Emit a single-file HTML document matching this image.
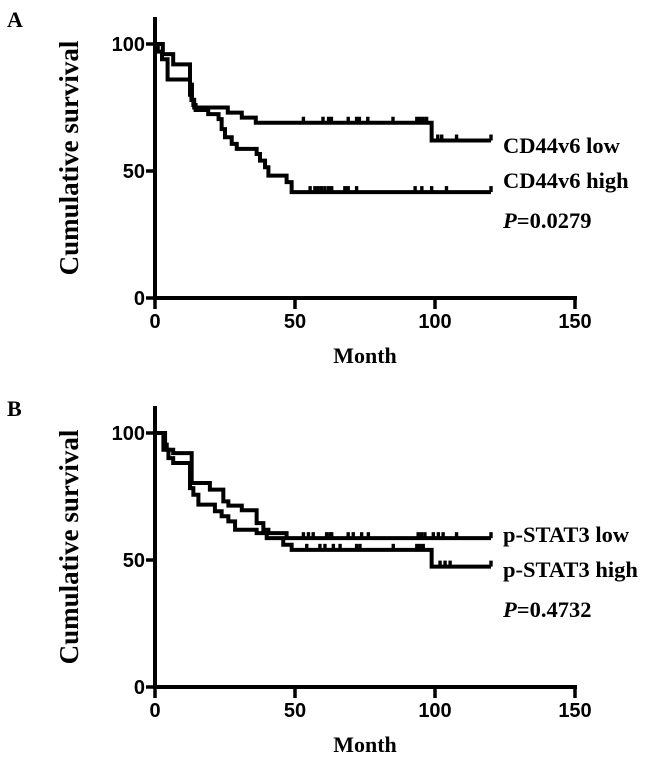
<!DOCTYPE html>
<html><head><meta charset="utf-8"><style>
body{margin:0;background:#fff;}
svg{display:block;}
.tick{font-family:"Liberation Sans",sans-serif;font-weight:bold;font-size:20px;}
.ser{font-family:"Liberation Serif",serif;font-weight:bold;}
</style></head><body>
<svg id="chart" width="648" height="760" viewBox="0 0 648 760">
<text class="ser" x="7" y="27" font-size="22">A</text>
<text class="ser" x="7" y="416" font-size="22">B</text>
</svg>
<script>
// Panel A data
const xTicks=[0,50,100,150];
const yTicks=[0,50,100];
const aLowSteps=[[0,100],[2.8,96],[6.5,92],[12.5,84],[13.2,78],[14,75],[26,73],[31,71],[36,69],[98.8,62]];
const aHighSteps=[[0,100],[1,97],[2.5,94],[4.5,86],[12.5,80],[13,78],[13.7,76],[14.5,74],[19,72.4],[22.7,70.4],[23.8,66.5],[25,63.3],[27.4,60.7],[29.2,58.7],[36.3,56.7],[37.5,54.1],[39.3,51.5],[40.5,48.2],[47,45.6],[48.8,41.7]];
const aLowCensor=[53,60,62,63,69,72,73,76,85,93.5,94.6,95.8,97,101,102.4,107.7,120];
const aHighCensor=[55.4,57.1,58.3,59.5,60.7,62,63.1,67.8,69,72,92.9,95.3,98.8,104.1,120];
// Panel B data
const bLowSteps=[[0,100],[3.6,95.4],[4.2,93.4],[6.5,92.1],[13.1,80.3],[19.6,77.7],[24.4,73.1],[26.2,71.4],[31,69.6],[36.3,64.5],[38.7,61.9],[40.5,60.6],[47,58.6]];
const bHighSteps=[[0,100],[3,93.4],[4.8,90.1],[6.5,88.2],[12.5,78.3],[13.7,75.7],[15.5,71.8],[21.4,69.2],[23.8,67.2],[26.2,65.2],[28.6,61.9],[36.3,60.6],[39.9,58.6],[45.8,56],[48.8,54],[98.8,47.4]];
const bLowCensor=[53,54.8,56.5,61.3,62.5,63.1,69,70.8,73.8,76.2,94,95.2,96.4,99.4,101.2,102.9,107.7,120];
const bHighCensor=[54.2,58.9,60.7,63.7,66.1,72,73.2,85.1,93.5,94.6,95.8,101.8,103.6,105.4,120];
const endTime=120;
const legendA=["CD44v6 low","CD44v6 high","0.0279"];
const legendB=["p-STAT3 low","p-STAT3 high","0.4732"];

const svg=document.getElementById('chart');
const NS='http://www.w3.org/2000/svg';
function mk(tag,attrs,parent){const e=document.createElementNS(NS,tag);for(const k in attrs)e.setAttribute(k,attrs[k]);(parent||svg).appendChild(e);return e;}
function stepVal(steps,t){let v=steps[0][1];for(const s of steps){if(s[0]<=t)v=s[1];}return v;}

function panel(off,id,lowSteps,highSteps,lowC,highC,leg){
  const x=t=>155+t*2.8;
  const y=v=>off+298-v*2.54;
  const g=mk('g',{});
  
  
  const ya=mk('line',{x1:155,y1:off+17,x2:155,y2:y(0)+2,stroke:'#000','stroke-width':4},g);
  
  
  const xa=mk('line',{x1:153,y1:y(0),x2:x(150)+2,y2:y(0),stroke:'#000','stroke-width':4},g);
  
  
  yTicks.forEach(v=>{
    mk('line',{x1:146,y1:y(v),x2:155,y2:y(v),stroke:'#000','stroke-width':3.5},g);
    const t=mk('text',{x:145,y:y(v)+7,'text-anchor':'end',class:'tick'},g);
    t.textContent=v;
    
    
  });
  xTicks.forEach(v=>{
    mk('line',{x1:x(v),y1:y(0),x2:x(v),y2:y(0)+11,stroke:'#000','stroke-width':3.5},g);
    const t=mk('text',{x:x(v),y:off+328,'text-anchor':'middle',class:'tick'},g);
    t.textContent=v;
    
    
  });
  const yt=mk('text',{x:0,y:0,'text-anchor':'middle',class:'ser','font-size':27,transform:`translate(78,${off+158}) rotate(-90)`},g);
  yt.textContent='Cumulative survival';
  
  
  const xt=mk('text',{x:365,y:off+363,'text-anchor':'middle',class:'ser','font-size':22},g);
  xt.textContent='Month';
  
  
  [[lowSteps,lowC,'low'],[highSteps,highC,'high']].forEach(([steps,cens,nm])=>{
    let d=`M${x(0)},${y(steps[0][1])}`;
    for(let i=1;i<steps.length;i++){d+=`H${x(steps[i][0])}V${y(steps[i][1])}`;}
    d+=`H${x(endTime)}`;
    const p=mk('path',{d:d,fill:'none',stroke:'#000','stroke-width':4},g);
    
    
    cens.forEach(t=>{
      const v=stepVal(steps,t);
      const c=mk('line',{x1:x(t),y1:y(v)-6,x2:x(t),y2:y(v),stroke:'#000','stroke-width':3.4},g);
      
      
    });
  });
  const l1=mk('text',{x:503,y:off+153,class:'ser','font-size':22.5},g);
  l1.textContent=leg[0];
  
  
  const l2=mk('text',{x:503,y:off+188,class:'ser','font-size':22.5},g);
  l2.textContent=leg[1];
  
  
  const l3=mk('text',{x:503,y:off+228,class:'ser','font-size':22.5},g);
  l3.innerHTML='<tspan font-style="italic">P</tspan>='+leg[2];
  
  
}
panel(0,'panel-a',aLowSteps,aHighSteps,aLowCensor,aHighCensor,legendA);
panel(389,'panel-b',bLowSteps,bHighSteps,bLowCensor,bHighCensor,legendB);
</script>
</body></html>
